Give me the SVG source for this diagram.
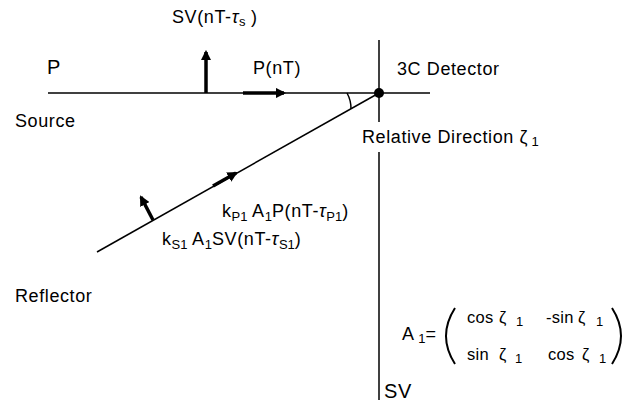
<svg xmlns="http://www.w3.org/2000/svg" width="624" height="410" viewBox="0 0 624 410">
<style>
text{font-family:"Liberation Sans",Arial,sans-serif;font-size:18px;letter-spacing:0.6px;fill:#000}
.sub{font-size:13px;letter-spacing:0}
.it{font-style:italic}
.mx{font-size:16.5px;letter-spacing:0.3px}
.ln{stroke:#000;stroke-width:1.5;fill:none}
.par{stroke:#000;stroke-width:2;fill:none}
.thick{stroke:#000;stroke-width:3.5;fill:none}
</style>
<defs>
<marker id="ah" viewBox="0 0 10 10" refX="8" refY="5" markerWidth="3" markerHeight="3" orient="auto">
<path d="M0,0 L10,5 L0,10 z" fill="#000"/>
</marker>
</defs>
<rect width="624" height="410" fill="#fff"/>
<g id="connectors">
<line class="ln" x1="48" y1="93" x2="430" y2="93"/>
<line class="ln" x1="379" y1="40" x2="379" y2="122"/>
<line class="ln" x1="379" y1="152" x2="379" y2="400"/>
<line class="ln" x1="379" y1="93" x2="97" y2="252"/>
<path class="ln" d="M347,93 A32,32 0 0 1 351,109"/>
<line class="thick" x1="206" y1="93" x2="206" y2="52" marker-end="url(#ah)"/>
<line class="thick" x1="243" y1="93" x2="284" y2="93" marker-end="url(#ah)"/>
<line class="thick" x1="213" y1="186" x2="236" y2="173" marker-end="url(#ah)"/>
<line class="thick" x1="153" y1="220" x2="141" y2="197" marker-end="url(#ah)"/>
</g>
<g id="detector">
<circle cx="379" cy="93" r="5" fill="#000"/>
<text x="397" y="75">3C Detector</text>
<text x="362" y="143">Relative Direction ζ<tspan class="sub" dy="3"> 1</tspan></text>
</g>
<g id="source">
<text x="47" y="74" style="font-size:20px">P</text>
<text x="15" y="127">Source</text>
<text x="172" y="23">SV(nT-<tspan class="it">τ</tspan><tspan class="sub" dy="3">s</tspan><tspan dy="-3"> )</tspan></text>
<text x="253" y="74">P(nT)</text>
</g>
<g id="reflector">
<text x="15" y="302">Reflector</text>
<text x="222" y="217">k<tspan class="sub" dy="4">P1</tspan><tspan dy="-4"> A</tspan><tspan class="sub" dy="4">1</tspan><tspan dy="-4">P(nT-</tspan><tspan class="it">τ</tspan><tspan class="sub" dy="4">P1</tspan><tspan dy="-4">)</tspan></text>
<text x="162" y="245">k<tspan class="sub" dy="4">S1</tspan><tspan dy="-4"> A</tspan><tspan class="sub" dy="4">1</tspan><tspan dy="-4">SV(nT-</tspan><tspan class="it">τ</tspan><tspan class="sub" dy="4">S1</tspan><tspan dy="-4">)</tspan></text>
</g>
<g id="matrix">
<text x="402" y="340">A<tspan class="sub" dy="3"> 1</tspan><tspan dy="-3">=</tspan></text>
<path class="par" d="M455,308 Q437,336 455,364"/>
<path class="par" d="M612,308 Q630,336 612,364"/>
<text class="mx" x="467" y="323">cos<tspan x="499">ζ</tspan><tspan class="sub" x="516" dy="3">1</tspan></text>
<text class="mx" x="546" y="323">-sin<tspan x="578">ζ</tspan><tspan class="sub" x="596" dy="3">1</tspan></text>
<text class="mx" x="467" y="360">sin<tspan x="499">ζ</tspan><tspan class="sub" x="515" dy="3">1</tspan></text>
<text class="mx" x="548" y="360">cos<tspan x="582">ζ</tspan><tspan class="sub" x="599" dy="3">1</tspan></text>
</g>
<g id="sv-axis">
<text x="384" y="398" style="font-size:20px">SV</text>
</g>
</svg>
